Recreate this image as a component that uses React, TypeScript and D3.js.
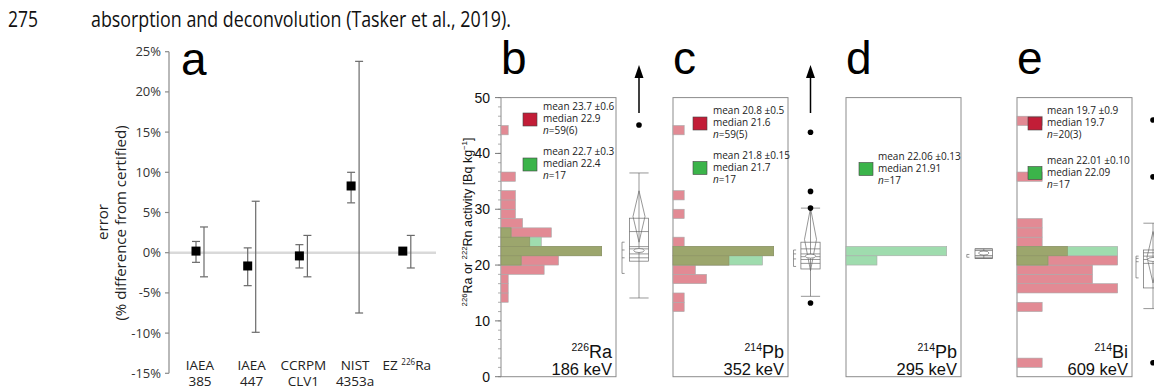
import React from "react";
import * as d3 from "d3";

const WIDTH = 1154;
const HEIGHT = 390;

// ---------- panel a: error relative to certified value ----------
const materialKeys = ["IAEA 385", "IAEA 447", "CCRPM CLV1", "NIST 4353a", "EZ 226Ra"];
const materialLabels = [["IAEA", "385"], ["IAEA", "447"], ["CCRPM", "CLV1"], ["NIST", "4353a"], ["EZ ^226^Ra"]];
const measuredError = [0.2, -1.65, -0.4, 8.3, 0.2];
const measuredLow = [-1.2, -4.1, -1.9, 6.2, NaN];
const measuredHigh = [1.4, 0.6, 1.0, 10.0, NaN];
const certifiedLow = [-3.0, -9.9, -3.0, -7.5, -1.9];
const certifiedHigh = [3.2, 6.4, 2.15, 23.8, 2.15];
const errorTicks = [-15, -10, -5, 0, 5, 10, 15, 20, 25];

// ---------- panels b-e: activity histograms (bins of 5/3 Bq/kg from 0) ----------
const BIN = 5 / 3;
const activityTicks = [0, 10, 20, 30, 40, 50];
const panelLetters = ["b", "c", "d", "e"];
const panelIsotopes = ["^226^Ra", "^214^Pb", "^214^Pb", "^214^Bi"];
const panelEnergies = ["186 keV", "352 keV", "295 keV", "609 keV"];

// counts per bin index (bin k spans k*5/3 .. (k+1)*5/3)
const redCounts: number[][] = [
  [0, 0, 0, 0, 0, 0, 0, 0, 1, 1, 1, 6, 8, 14, 4, 7, 3, 2, 2, 2, 0, 2, 0, 0, 0, 0, 1, 0, 0, 0],
  [0, 0, 0, 0, 0, 0, 0, 1, 1, 0, 3, 2, 5, 9, 1, 0, 0, 1, 0, 1, 0, 0, 0, 0, 0, 0, 1, 0, 0, 0],
  [],
  [0, 1, 0, 0, 0, 0, 0, 1, 0, 4, 3, 3, 4, 2, 1, 1, 1, 0, 0, 0, 0, 1, 0, 0, 0, 0, 0, 1, 0, 0],
];
const greenCounts: number[][] = [
  [0, 0, 0, 0, 0, 0, 0, 0, 0, 0, 0, 0, 2, 10, 4, 1],
  [0, 0, 0, 0, 0, 0, 0, 0, 0, 0, 0, 0, 8, 9],
  [0, 0, 0, 0, 0, 0, 0, 0, 0, 0, 0, 0, 4, 13],
  [0, 0, 0, 0, 0, 0, 0, 0, 0, 0, 0, 0, 4, 13],
];
const redLegend: (string[] | null)[] = [
  ["mean 23.7 ±0.6", "median 22.9", "n=59(6)"],
  ["mean 20.8 ±0.5", "median 21.6", "n=59(5)"],
  null,
  ["mean 19.7 ±0.9", "median 19.7", "n=20(3)"],
];
const greenLegend: string[][] = [
  ["mean 22.7 ±0.3", "median 22.4", "n=17"],
  ["mean 21.8 ±0.15", "median 21.7", "n=17"],
  ["mean 22.06 ±0.13", "median 21.91", "n=17"],
  ["mean 22.01 ±0.10", "median 22.09", "n=17"],
];

// box plot summaries (Bq/kg)
const whiskerLow = [14.1, 14.4, 21.2, 12.2];
const whiskerHigh = [36.5, 30.2, 22.9, 27.5];
const boxLow = [20.7, 19.3, 21.2, 15.9];
const boxHigh = [28.4, 24.1, 22.9, 22.7];
const quantileLines = [
  [26.0, 23.3, 22.9, 22.0, 21.3],
  [22.9, 22.0, 21.5, 21.0, 20.3],
  [22.6, 21.7, 21.4],
  [22.2, 21.6, 21.0, 20.3],
];
const meanMarks = [22.6, 21.6, 22.15, 21.0];
const diamondLow = [24.1, 19.0, NaN, 16.8];
const diamondHigh = [33.3, 30.2, NaN, 26.0];
const halfLow = [18.5, 19.75, 21.4, 17.7];
const halfHigh = [24.1, 22.7, 21.9, 21.6];
const halfTicks = [[22.7, 21.3], [22.0, 21.1], [], [21.2, 20.6]];
const outliers = [[45.1], [43.8, 33.2, 30.2, 13.2], [], [46.0, 35.8, 2.5]];
const offScaleAbove = [true, true, false, false];

// ---------- layout ----------
const frameLeft = [501, 673, 846, 1017];
const FRAME_W = 115;
const BAR_MAX = 100.7;
const boxCenter = [639, 810.5, 983.8, 1153];
const legendSwatchX = [22, 20, 13, 11];
const legendTextX = [42, 40, 32, 30];
const redLegendY = [110, 114, 0, 114];
const greenLegendY = [155, 158.5, 159.5, 163.5];

const COL_RED = "#e28a94";
const COL_GREEN = "#9fdcae";
const COL_BOTH = "#9ca66d";
const BAR_EDGE = "#a9a9a9";

function rich(text: string, base: number, supScale = 0.62, rise = 0.4) {
  const parts = text.split("^");
  const out: React.ReactNode[] = [];
  let raised = false;
  parts.forEach((p, i) => {
    if (!p) return;
    const sup = i % 2 === 1;
    let dy: number | undefined;
    if (sup && !raised) {
      dy = -rise * base;
      raised = true;
    } else if (!sup && raised) {
      dy = rise * base;
      raised = false;
    }
    out.push(
      <tspan key={i} dy={dy} fontSize={sup ? base * supScale : undefined}>
        {p}
      </tspan>
    );
  });
  return out;
}

function LegendBlock({ x, tx, y, color, lines }: { x: number; tx: number; y: number; color: string; lines: string[] }) {
  return (
    <g>
      <rect x={x} y={y - 9} width={14} height={13} fill={color} stroke="#444" strokeWidth={0.6} />
      {lines.map((l, i) => {
        const italic = l.startsWith("n=");
        return (
          <text key={i} x={tx} y={y - 12 + i * 12} fontFamily="'Open Sans', sans-serif" fontSize={10} fill="#222">
            {italic ? (
              <>
                <tspan fontStyle="italic">n</tspan>
                <tspan>{l.slice(1)}</tspan>
              </>
            ) : (
              l
            )}
          </text>
        );
      })}
    </g>
  );
}

export default function App() {
  // panel a scales
  const yA = d3.scaleLinear().domain([-15, 25]).range([373.3, 51.7]);
  const xA = d3.scalePoint<string>().domain(materialKeys).range([200, 406.8]);
  const axisAX = 169;

  // panels b-e shared activity scale
  const yB = d3.scaleLinear().domain([0, 50]).range([376.7, 97.6]);
  const minorTicks = d3.range(0, 30 + 1).map((k) => k * BIN).filter((v) => v <= 50);

  const gray = "#6a6a6a";

  return (
    <svg width={WIDTH} height={HEIGHT} style={{ position: "absolute", left: 0, top: 0, background: "#fff" }}>
      <rect width={WIDTH} height={HEIGHT} fill="#fff" />

      {/* running text line above the figure */}
      <text x={8} y={27} fontFamily="'Open Sans', sans-serif" fontSize={22} fill="#111" textLength={30} lengthAdjust="spacingAndGlyphs">
        275
      </text>
      <text x={91} y={27} fontFamily="'Open Sans', sans-serif" fontSize={22} fill="#111" textLength={420} lengthAdjust="spacingAndGlyphs">
        absorption and deconvolution (Tasker et al., 2019).
      </text>

      {/* ---------------- panel a ---------------- */}
      <g>
        <line x1={axisAX} x2={436} y1={yA(0)} y2={yA(0)} stroke="#d9d9d9" strokeWidth={2.6} />
        <line x1={axisAX} x2={axisAX} y1={yA(25)} y2={yA(-15)} stroke="#8a8a8a" strokeWidth={1.2} />
        {errorTicks.map((t) => (
          <g key={t}>
            <line x1={axisAX - 4} x2={axisAX} y1={yA(t)} y2={yA(t)} stroke="#8a8a8a" strokeWidth={1.2} />
            <text x={axisAX - 8} y={yA(t) + 4.5} textAnchor="end" fontFamily="'Open Sans', sans-serif" fontSize={13} fill="#333">
              {`${t}%`}
            </text>
          </g>
        ))}
        <text transform={`translate(108,222) rotate(-90)`} textAnchor="middle" fontFamily="'Open Sans', sans-serif" fontSize={15} fill="#222">
          error
        </text>
        <text transform={`translate(126,223) rotate(-90)`} textAnchor="middle" fontFamily="'Open Sans', sans-serif" fontSize={15} fill="#222">
          (% difference from certified)
        </text>

        {materialKeys.map((k, i) => {
          const cx = xA(k)!;
          const mx = cx - 4;
          const ex = cx + 4;
          return (
            <g key={k}>
              {/* certified-range error bar */}
              <line x1={ex} x2={ex} y1={yA(certifiedHigh[i])} y2={yA(certifiedLow[i])} stroke={gray} strokeWidth={1.2} />
              <line x1={ex - 4} x2={ex + 4} y1={yA(certifiedHigh[i])} y2={yA(certifiedHigh[i])} stroke={gray} strokeWidth={1.2} />
              <line x1={ex - 4} x2={ex + 4} y1={yA(certifiedLow[i])} y2={yA(certifiedLow[i])} stroke={gray} strokeWidth={1.2} />
              {/* measured error bar */}
              {!isNaN(measuredLow[i]) && (
                <g>
                  <line x1={mx} x2={mx} y1={yA(measuredHigh[i])} y2={yA(measuredLow[i])} stroke={gray} strokeWidth={1.2} />
                  <line x1={mx - 4} x2={mx + 4} y1={yA(measuredHigh[i])} y2={yA(measuredHigh[i])} stroke={gray} strokeWidth={1.2} />
                  <line x1={mx - 4} x2={mx + 4} y1={yA(measuredLow[i])} y2={yA(measuredLow[i])} stroke={gray} strokeWidth={1.2} />
                </g>
              )}
              <rect x={mx - 4.5} y={yA(measuredError[i]) - 4.5} width={9} height={9} fill="#000" />
              {materialLabels[i].map((l, j) => (
                <text key={j} x={cx} y={369.5 + j * 16.5} textAnchor="middle" fontFamily="'Open Sans', sans-serif" fontSize={13.5} fill="#222">
                  {rich(l, 13.5, 0.6, 0.35)}
                </text>
              ))}
            </g>
          );
        })}
        <text x={181} y={75} fontFamily="'Liberation Sans', Arial, sans-serif" fontSize={46} fill="#000">
          a
        </text>
      </g>

      {/* ---------------- panels b-e ---------------- */}
      {/* activity axis on panel b */}
      <g>
        {activityTicks.map((t) => (
          <g key={t}>
            <line x1={frameLeft[0] - 6} x2={frameLeft[0]} y1={yB(t)} y2={yB(t)} stroke="#555" strokeWidth={0.8} />
            <text x={490} y={yB(t) + 5} textAnchor="end" fontFamily="'Liberation Sans', Arial, sans-serif" fontSize={14} fill="#111">
              {t}
            </text>
          </g>
        ))}
        {minorTicks.map((t, i) => (
          <line key={i} x1={frameLeft[0] - 3} x2={frameLeft[0]} y1={yB(t)} y2={yB(t)} stroke="#777" strokeWidth={0.6} />
        ))}
        <text transform={`translate(472,222) rotate(-90)`} textAnchor="middle" fontFamily="'Liberation Sans', Arial, sans-serif" fontSize={12.5} fill="#111">
          {rich("^226^Ra or ^222^Rn activity [Bq kg^−1^]", 12.5, 0.62, 0.4)}
        </text>
      </g>

      {panelLetters.map((letter, p) => {
        const left = frameLeft[p];
        const right = left + FRAME_W;
        const red = redCounts[p];
        const green = greenCounts[p];
        const xRed = d3.scaleLinear().domain([0, d3.max(red) || 1]).range([0, BAR_MAX]);
        const xGreen = d3.scaleLinear().domain([0, d3.max(green) || 1]).range([0, BAR_MAX]);
        const nb = Math.max(red.length, green.length);
        const bins = d3.range(nb);
        const c = boxCenter[p];
        const hw = p === 2 ? 8.8 : 9.6;
        const dw = 6;
        const bx = c - 17;
        return (
          <g key={letter}>
            <rect x={left} y={yB(50)} width={FRAME_W} height={yB(0) - yB(50)} fill="#fff" stroke="#8c8c8c" strokeWidth={1} />
            {/* red (all samples) */}
            {bins.map((k) => {
              const v = red[k] || 0;
              if (!v) return null;
              return (
                <rect key={`r${k}`} x={left} y={yB((k + 1) * BIN)} width={xRed(v)} height={yB(k * BIN) - yB((k + 1) * BIN)} fill={COL_RED} stroke={BAR_EDGE} strokeWidth={0.6} />
              );
            })}
            {/* green (reference subset) */}
            {bins.map((k) => {
              const v = green[k] || 0;
              if (!v) return null;
              return (
                <rect key={`g${k}`} x={left} y={yB((k + 1) * BIN)} width={xGreen(v)} height={yB(k * BIN) - yB((k + 1) * BIN)} fill={COL_GREEN} stroke={BAR_EDGE} strokeWidth={0.6} />
              );
            })}
            {/* overlap of both */}
            {bins.map((k) => {
              const r = red[k] || 0;
              const g = green[k] || 0;
              if (!r || !g) return null;
              const w = Math.min(xRed(r), xGreen(g));
              return (
                <rect key={`o${k}`} x={left} y={yB((k + 1) * BIN)} width={w} height={yB(k * BIN) - yB((k + 1) * BIN)} fill={COL_BOTH} stroke="#8d9363" strokeWidth={0.6} />
              );
            })}

            {/* legend */}
            {redLegend[p] && (
              <LegendBlock x={left + legendSwatchX[p]} tx={left + legendTextX[p]} y={redLegendY[p] + 12} color="#c21d37" lines={redLegend[p]!} />
            )}
            <LegendBlock x={left + legendSwatchX[p]} tx={left + legendTextX[p]} y={greenLegendY[p] + 12} color="#3bb44a" lines={greenLegend[p]} />

            {/* isotope and energy */}
            <text x={right - 4} y={358} textAnchor="end" fontFamily="'Liberation Sans', Arial, sans-serif" fontSize={18} fill="#111">
              {rich(panelIsotopes[p], 18, 0.58, 0.4)}
            </text>
            <text x={right - 4} y={375} textAnchor="end" fontFamily="'Liberation Sans', Arial, sans-serif" fontSize={16.5} fill="#111">
              {panelEnergies[p]}
            </text>
            <text x={left} y={74} fontFamily="'Liberation Sans', Arial, sans-serif" fontSize={46} fill="#000">
              {letter}
            </text>

            {/* box plot */}
            <g stroke="#6a6a6a" strokeWidth={0.7} fill="none">
              <line x1={c} x2={c} y1={yB(whiskerHigh[p])} y2={yB(whiskerLow[p])} />
              <line x1={c - hw} x2={c + hw} y1={yB(whiskerHigh[p])} y2={yB(whiskerHigh[p])} />
              <line x1={c - hw} x2={c + hw} y1={yB(whiskerLow[p])} y2={yB(whiskerLow[p])} />
              <rect x={c - hw} y={yB(boxHigh[p])} width={hw * 2} height={yB(boxLow[p]) - yB(boxHigh[p])} />
              {quantileLines[p].map((q, i) => (
                <line key={i} x1={c - hw} x2={c + hw} y1={yB(q)} y2={yB(q)} />
              ))}
              {!isNaN(diamondLow[p]) && (
                <polygon
                  points={[
                    [c, yB(diamondHigh[p])],
                    [c + dw, yB((diamondHigh[p] + diamondLow[p]) / 2)],
                    [c, yB(diamondLow[p])],
                    [c - dw, yB((diamondHigh[p] + diamondLow[p]) / 2)],
                  ]
                    .map((pt) => pt.join(","))
                    .join(" ")}
                />
              )}
              <ellipse cx={c} cy={yB(meanMarks[p])} rx={5.2} ry={2} fill="#fff" />
              {/* shortest-half bracket */}
              <line x1={bx} x2={bx} y1={yB(halfHigh[p])} y2={yB(halfLow[p])} />
              {[halfHigh[p], halfLow[p], ...halfTicks[p]].map((t, i) => (
                <line key={i} x1={bx} x2={bx + 2.6} y1={yB(t)} y2={yB(t)} />
              ))}
            </g>
            {outliers[p].map((o, i) => (
              <circle key={i} cx={c} cy={yB(o)} r={2.8} fill="#000" />
            ))}
            {offScaleAbove[p] && (
              <g>
                <line x1={c} x2={c} y1={113} y2={76} stroke="#000" strokeWidth={1.5} />
                <polygon points={`${c},${65} ${c - 4.5},${78} ${c + 4.5},${78}`} fill="#000" />
              </g>
            )}
          </g>
        );
      })}
    </svg>
  );
}
